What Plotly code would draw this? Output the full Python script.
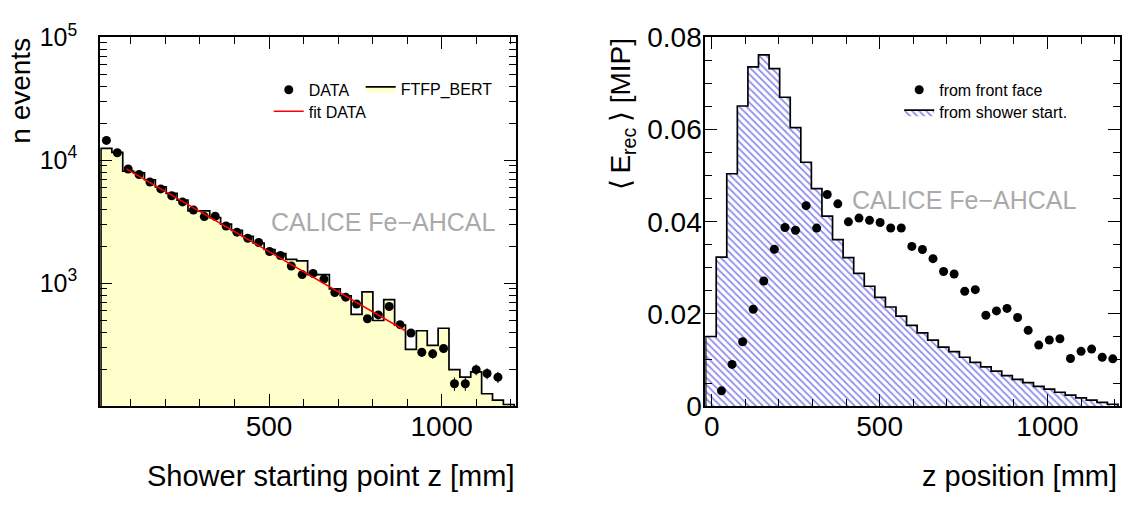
import plotly.graph_objects as go

# ---------------- data ----------------
# bin edges [mm] (38 bins of 31.5 mm) for the shower-start histogram
left_edges = [13.25, 44.75, 76.25, 107.75, 139.25, 170.75, 202.25, 233.75, 265.25, 296.75,
              328.25, 359.75, 391.25, 422.75, 454.25, 485.75, 517.25, 548.75, 580.25, 611.75,
              643.25, 674.75, 706.25, 737.75, 769.25, 800.75, 832.25, 863.75, 895.25, 926.75,
              958.25, 989.75, 1021.25, 1052.75, 1084.25, 1115.75, 1147.25, 1178.75, 1210.25]
# FTFP_BERT simulation, counts per bin
ftfp_counts = [12470, 11600, 8150, 7880, 6940, 6080, 5380, 4740, 3870, 3870,
               3420, 3020, 2690, 2400, 2120, 1880, 1740, 1560, 1520, 1175,
               1175, 900, 790, 558, 849, 497, 735, 455, 289, 410,
               312, 430, 198, 172, 190, 126, 112, 103]
# DATA counts (first 37 bins) and their errors
data_counts = [14500, 11500, 8490, 7650, 6660, 5850, 5140, 4580, 3940, 3480,
               3500, 2920, 2600, 2320, 2140, 1810, 1680, 1380, 1175, 1200,
               1080, 840, 770, 677, 514, 552, 646, 460, 393, 274,
               266, 294, 152, 152, 198, 184, 172]
data_errors = [170, 150, 130, 120, 115, 107, 100, 95, 88, 83,
               83, 76, 71, 67, 65, 60, 57, 52, 48, 48,
               46, 41, 39, 36, 32, 33, 36, 30, 28, 23,
               23, 24, 19, 19, 20, 19, 18]
# exponential fit to DATA (end points)
fit_z = [87, 895]
fit_n = [8500, 410]

# longitudinal profile: bin edges [mm] (39 bins)
right_edges = [-18.25] + left_edges
# mean energy per layer, measured from shower start (histogram)
from_start = [0.0151, 0.0323, 0.0504, 0.0651, 0.0736, 0.0762, 0.0732, 0.0670, 0.0604, 0.0529,
              0.0472, 0.0412, 0.0361, 0.0322, 0.0288, 0.0260, 0.0236, 0.0215, 0.0195, 0.0175,
              0.0159, 0.0143, 0.0128, 0.0118, 0.0106, 0.0095, 0.0085, 0.0076, 0.0066, 0.0058,
              0.0051, 0.0043, 0.0037, 0.0030, 0.0024, 0.0018, 0.0013, 0.0008, 0.0004]
# mean energy per layer, measured from front face (points, bins 1..38)
from_front = [0.00331, 0.00905, 0.01397, 0.0210, 0.02714, 0.03403, 0.03875, 0.03814, 0.04348, 0.03862,
              0.04591, 0.04388, 0.03997, 0.04078, 0.04030, 0.03983, 0.03864, 0.03864, 0.03464, 0.03396,
              0.03199, 0.02920, 0.02866, 0.02492, 0.02526, 0.01970, 0.02065, 0.02119, 0.01922, 0.01643,
              0.01324, 0.01433, 0.01460, 0.01032, 0.01188, 0.01236, 0.01059, 0.01025]

left_ticks = [500, 1000]
left_minor = [100, 200, 300, 400, 600, 700, 800, 900, 1100, 1200]
log_ticks = [1e3, 1e4, 1e5]
log_ticktext = ["10<sup>3</sup>", "10<sup>4</sup>", "10<sup>5</sup>"]
log_minor = [200, 300, 400, 500, 600, 700, 800, 900,
             2000, 3000, 4000, 5000, 6000, 7000, 8000, 9000,
             20000, 30000, 40000, 50000, 60000, 70000, 80000, 90000]
right_xticks = [0, 500, 1000]
right_xminor = [100, 200, 300, 400, 600, 700, 800, 900, 1100, 1200]
right_yticks = [0, 0.02, 0.04, 0.06, 0.08]
right_yticktext = ["0", "0.02", "0.04", "0.06", "0.08"]


def centers(edges):
    return [(a + b) / 2 for a, b in zip(edges[:-1], edges[1:])]


def step_outline(edges, vals, base):
    xs = [edges[0]] + edges[:-1] + [edges[-1], edges[-1]]
    ys = [base] + list(vals) + [vals[-1], base]
    return xs, ys


W, H = 1124, 512
FONT = "Liberation Sans, Arial, Helvetica, sans-serif"


def px(x):
    return x / W


def py(y):
    return 1 - y / H


fig = go.Figure()

# ---- left panel ----
hx, hy = step_outline(left_edges, ftfp_counts, 50)
fig.add_trace(go.Scatter(x=hx, y=hy, mode="lines", line=dict(shape="hv", color="black", width=1.7),
                         fill="toself", fillcolor="#ffffcc", name="FTFP_BERT",
                         xaxis="x", yaxis="y", legend="legend2"))
lc = centers(left_edges)
fig.add_trace(go.Scatter(x=lc[:len(data_counts)], y=data_counts, mode="markers",
                         marker=dict(color="black", size=9),
                         error_y=dict(type="data", array=data_errors, color="black", thickness=1, width=0),
                         name="DATA", xaxis="x", yaxis="y", legend="legend6"))
fig.add_trace(go.Scatter(x=fit_z, y=fit_n, mode="lines", line=dict(color="red", width=1.5),
                         name="fit DATA", xaxis="x", yaxis="y", legend="legend3"))

# ---- right panel ----
rx, ry = step_outline(right_edges, from_start, 0)
fig.add_trace(go.Scatter(x=rx, y=ry, mode="lines", line=dict(shape="hv", color="black", width=1.7),
                         fill="toself", fillcolor="white",
                         fillpattern=dict(shape="\\", fgcolor="#2020dd", bgcolor="white", size=5, solidity=0.35),
                         name="from shower start.", xaxis="x2", yaxis="y2", legend="legend5"))
rc = centers(left_edges)
fig.add_trace(go.Scatter(x=rc[:len(from_front)], y=from_front, mode="markers",
                         marker=dict(color="black", size=9),
                         name="from front face", xaxis="x2", yaxis="y2", legend="legend4"))

TICKSIZE = 28
axis_common = dict(showline=True, linewidth=2, linecolor="black", mirror="ticks",
                   ticks="inside", ticklen=12, tickwidth=1.3, tickcolor="black",
                   showgrid=False, zeroline=False)
minor_common = dict(ticks="inside", ticklen=7, tickwidth=1.3, tickcolor="black", showgrid=False)
tf = dict(size=TICKSIZE, color="black", family=FONT)

ydom = [py(415.7), py(20.7)]
fig.update_layout(
    width=W, height=H, autosize=False, showlegend=True,
    margin=dict(l=0, r=0, t=0, b=0),
    paper_bgcolor="white", plot_bgcolor="white",
    font=dict(family=FONT, color="black"),
    xaxis=dict(domain=[px(99.3), px(515)], range=[11, 1214], anchor="y",
               tickmode="array", tickvals=left_ticks, ticklabelstandoff=-6, tickfont=tf,
               minor=dict(tickmode="array", tickvals=left_minor, **minor_common), **axis_common),
    yaxis=dict(domain=ydom, type="log", range=[2, 5], anchor="x",
               tickmode="array", tickvals=log_ticks, ticktext=log_ticktext, ticklabelstandoff=16,
               tickfont=dict(size=25, color="black", family=FONT),
               minor=dict(tickmode="array", tickvals=log_minor, **minor_common), **axis_common),
    xaxis2=dict(domain=[px(705), px(1120)], range=[-19, 1216], anchor="y2",
                tickmode="array", tickvals=right_xticks, ticklabelstandoff=-6, tickfont=tf,
                minor=dict(tickmode="array", tickvals=right_xminor, **minor_common), **axis_common),
    yaxis2=dict(domain=ydom, range=[0, 0.08], anchor="x2",
                tickmode="array", tickvals=right_yticks, ticktext=right_yticktext, ticklabelstandoff=-4,
                tickfont=tf,
                minor=dict(tickmode="linear", tick0=0, dtick=0.005, **minor_common), **axis_common),
)

leg_common = dict(xanchor="left", yanchor="middle", bgcolor="rgba(0,0,0,0)", borderwidth=0,
                  font=dict(size=16, family=FONT, color="black"), visible=True)
fig.update_layout(
    legend6=dict(x=px(268), y=py(77), **leg_common),
    legend2=dict(x=px(360), y=py(76), **leg_common),
    legend3=dict(x=px(268), y=py(100), **leg_common),
    legend4=dict(x=px(899), y=py(77), **leg_common),
    legend5=dict(x=px(899), y=py(101), **leg_common),
)

ann = []
ann.append(dict(text="Shower starting point z [mm]", x=px(515), y=py(491), xanchor="right", yanchor="middle",
                showarrow=False, font=dict(size=29, family=FONT, color="black"), xref="paper", yref="paper"))
ann.append(dict(text="z position [mm]", x=px(1119), y=py(491), xanchor="right", yanchor="middle",
                showarrow=False, font=dict(size=29, family=FONT, color="black"), xref="paper", yref="paper"))
ann.append(dict(text="n events", x=px(20), y=py(19), xanchor="center", yanchor="top", textangle=-90,
                showarrow=False, font=dict(size=28, family=FONT, color="black"), xref="paper", yref="paper"))
ann.append(dict(text="\u27e8\u2009E<sub>rec</sub>\u2009\u27e9 [MIP]", x=px(622), y=py(19), xanchor="center",
                yanchor="top", textangle=-90, showarrow=False, font=dict(size=28, family=FONT, color="black"),
                xref="paper", yref="paper"))
ann.append(dict(text="CALICE Fe\u2212AHCAL", x=px(382.5), y=py(218), xanchor="center", yanchor="middle",
                showarrow=False, font=dict(size=25, family=FONT, color="#aaaaaa"), xref="paper", yref="paper"))
ann.append(dict(text="CALICE Fe\u2212AHCAL", x=px(964), y=py(195), xanchor="center", yanchor="middle",
                showarrow=False, font=dict(size=25, family=FONT, color="#aaaaaa"), xref="paper", yref="paper"))
fig.update_layout(annotations=ann)

fig.write_html("out.html", config={"displayModeBar": False},
               post_script="document.body.style.margin='0px';document.body.style.overflow='hidden';")
